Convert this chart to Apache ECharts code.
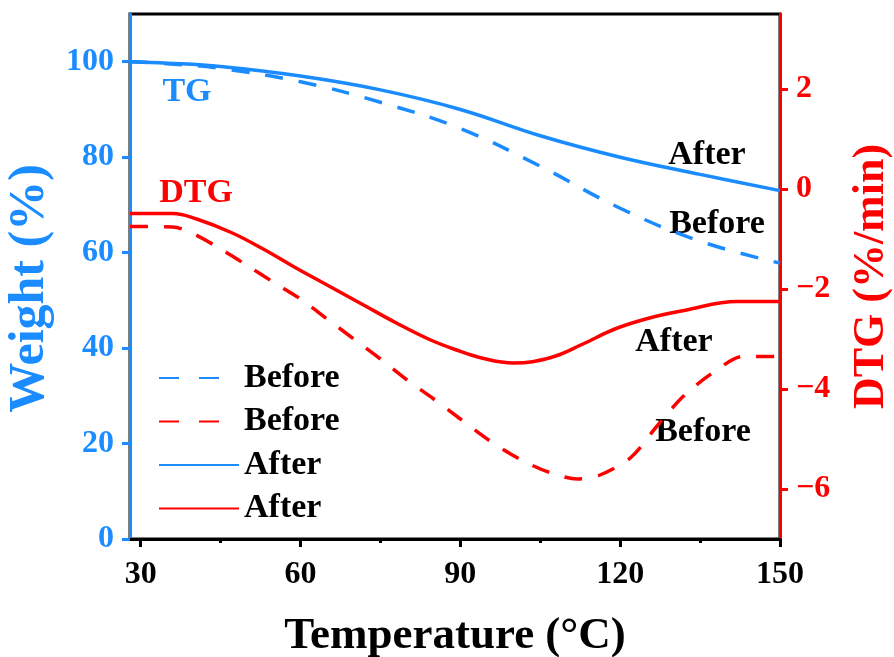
<!DOCTYPE html>
<html>
<head>
<meta charset="utf-8">
<script src="https://cdn.jsdelivr.net/npm/echarts@6/dist/echarts.min.js"></script>
<style>
  html, body { margin: 0; padding: 0; background: #fff; }
  #main { width: 894px; height: 657px; }
</style>
</head>
<body>
<div id="main"></div>
<script>
// TG data (left axis, weight %)
var tgTemp = [28, 35, 45, 60, 75, 90, 105, 120, 135, 150];
var tgAfter = [100, 99.7, 99.0, 97.0, 94.1, 90.0, 84.5, 80.0, 76.4, 73.0];
var tgBefore = [100, 99.6, 98.6, 95.8, 91.5, 86.0, 78.1, 69.3, 62.4, 57.8];

// DTG data (right axis, %/min)
var dtgAfterTemp = [28, 36, 40.5, 47, 53, 59, 65.5, 72, 78, 84, 89, 94, 100, 107, 113, 119, 125.5, 132, 142, 150];
var dtgAfter = [-0.49, -0.49, -0.6, -0.87, -1.2, -1.57, -1.95, -2.33, -2.68, -3.0, -3.21, -3.38, -3.48, -3.37, -3.1, -2.8, -2.58, -2.43, -2.25, -2.25];
var dtgBeforeTemp = [28, 36, 40, 45, 50, 55, 60, 65, 70, 75, 80, 85, 90, 96, 102, 107, 112, 116, 122, 127, 132, 138, 143, 150];
var dtgBefore = [-0.75, -0.76, -0.9, -1.2, -1.53, -1.87, -2.2, -2.6, -3.0, -3.4, -3.82, -4.2, -4.6, -5.07, -5.45, -5.68, -5.8, -5.73, -5.37, -4.73, -4.13, -3.63, -3.35, -3.35];

// ticks
var xTicks = [30, 60, 90, 120, 150];
var xMinorTicks = [45, 75, 105, 135];
var weightTicks = [0, 20, 40, 60, 80, 100];
var dtgTicks = [-6, -4, -2, 0, 2];

var blue = '#1a8cff';
var red = '#ff0000';
var font = 'Liberation Serif';

function zip(xs, ys) {
  return xs.map(function (x, i) { return [x, ys[i]]; });
}

var chart = echarts.init(document.getElementById('main'), null, { renderer: 'canvas' });

var option = {
  animation: false,
  grid: {
    left: 130, right: 114, top: 14, bottom: 118,
    outerBoundsMode: 'none', containLabel: false,
    show: true, borderColor: '#000', borderWidth: 3
  },
  legend: {
    orient: 'vertical',
    left: 153, top: 356,
    itemWidth: 80, itemHeight: 14, itemGap: 9.5,
    itemStyle: { opacity: 0 },
    formatter: function (name) { return name.split(' ')[0]; },
    textStyle: { fontFamily: font, fontWeight: 'bold', fontSize: 34, color: '#000', lineHeight: 34 },
    data: [
      { name: 'Before TG', lineStyle: { type: [20, 20] } },
      { name: 'Before DTG', lineStyle: { type: [20, 20] } },
      { name: 'After TG' },
      { name: 'After DTG' }
    ]
  },
  xAxis: [{
    type: 'value', min: 28, max: 150,
    name: 'Temperature (°C)', nameLocation: 'middle', nameGap: 75,
    nameTextStyle: { fontFamily: font, fontWeight: 'bold', fontSize: 45, color: '#000' },
    axisLine: { onZero: false, lineStyle: { color: '#000', width: 3 } },
    axisTick: { show: true, inside: false, length: 8, lineStyle: { width: 3, color: '#000' }, customValues: xTicks },
    axisLabel: { customValues: xTicks, margin: 20, fontFamily: font, fontWeight: 'bold', fontSize: 32, color: '#000' },
    splitLine: { show: false }
  }, {
    type: 'value', min: 28, max: 150, position: 'bottom',
    axisLine: { show: false, onZero: false },
    axisTick: { show: true, inside: false, length: 4, lineStyle: { width: 3, color: '#000' }, customValues: xMinorTicks },
    axisLabel: { show: false },
    splitLine: { show: false }
  }],
  yAxis: [{
    type: 'value', min: 0, max: 110, position: 'left',
    name: 'Weight (%)', nameLocation: 'middle', nameGap: 70, nameRotate: 90,
    nameTextStyle: { fontFamily: font, fontWeight: 'bold', fontSize: 50, color: blue, padding: [0, 24, 0, 0] },
    axisLine: { show: true, onZero: false, lineStyle: { color: blue, width: 3 } },
    axisTick: { show: true, inside: false, length: 8, lineStyle: { width: 3, color: blue }, customValues: weightTicks },
    axisLabel: { customValues: weightTicks, margin: 16, fontFamily: font, fontWeight: 'bold', fontSize: 32, color: blue },
    splitLine: { show: false }
  }, {
    type: 'value', min: -7, max: 3.5, position: 'right',
    name: 'DTG (%/min)', nameLocation: 'middle', nameGap: 70, nameRotate: 90,
    nameTextStyle: { fontFamily: font, fontWeight: 'bold', fontSize: 44, color: red },
    axisLine: { show: true, onZero: false, lineStyle: { color: red, width: 3 } },
    axisTick: { show: true, inside: false, length: 8, lineStyle: { width: 3, color: red }, customValues: dtgTicks },
    axisLabel: {
      customValues: dtgTicks, margin: 16, fontFamily: font, fontWeight: 'bold', fontSize: 32, color: red,
      formatter: function (v) { return v < 0 ? '\u2212' + (-v) : String(v); }
    },
    splitLine: { show: false }
  }],
  series: [{
    name: 'Before TG', type: 'line', yAxisIndex: 0, symbol: 'none', smooth: 0.4,
    data: zip(tgTemp, tgBefore),
    lineStyle: { color: blue, width: 3.5, type: [18, 16] }, itemStyle: { color: blue }
  }, {
    name: 'Before DTG', type: 'line', yAxisIndex: 1, symbol: 'none', smooth: 0.3,
    data: zip(dtgBeforeTemp, dtgBefore),
    lineStyle: { color: red, width: 3.5, type: [18, 16] }, itemStyle: { color: red }
  }, {
    name: 'After TG', type: 'line', yAxisIndex: 0, symbol: 'none', smooth: 0.4,
    data: zip(tgTemp, tgAfter),
    lineStyle: { color: blue, width: 3.5 }, itemStyle: { color: blue }
  }, {
    name: 'After DTG', type: 'line', yAxisIndex: 1, symbol: 'none', smooth: 0.4,
    data: zip(dtgAfterTemp, dtgAfter),
    lineStyle: { color: red, width: 3.5 }, itemStyle: { color: red }
  }],
  graphic: [
    { type: 'text', x: 187, y: 92, style: { text: 'TG', fill: blue, font: 'bold 34px "Liberation Serif"', textAlign: 'center', textVerticalAlign: 'middle' } },
    { type: 'text', x: 196, y: 193, style: { text: 'DTG', fill: red, font: 'bold 34px "Liberation Serif"', textAlign: 'center', textVerticalAlign: 'middle' } },
    { type: 'text', x: 707, y: 155, style: { text: 'After', fill: '#000', font: 'bold 34px "Liberation Serif"', textAlign: 'center', textVerticalAlign: 'middle' } },
    { type: 'text', x: 717, y: 224, style: { text: 'Before', fill: '#000', font: 'bold 34px "Liberation Serif"', textAlign: 'center', textVerticalAlign: 'middle' } },
    { type: 'text', x: 674, y: 342, style: { text: 'After', fill: '#000', font: 'bold 34px "Liberation Serif"', textAlign: 'center', textVerticalAlign: 'middle' } },
    { type: 'text', x: 703, y: 432, style: { text: 'Before', fill: '#000', font: 'bold 34px "Liberation Serif"', textAlign: 'center', textVerticalAlign: 'middle' } }
  ]
};

chart.setOption(option);
</script>
</body>
</html>
